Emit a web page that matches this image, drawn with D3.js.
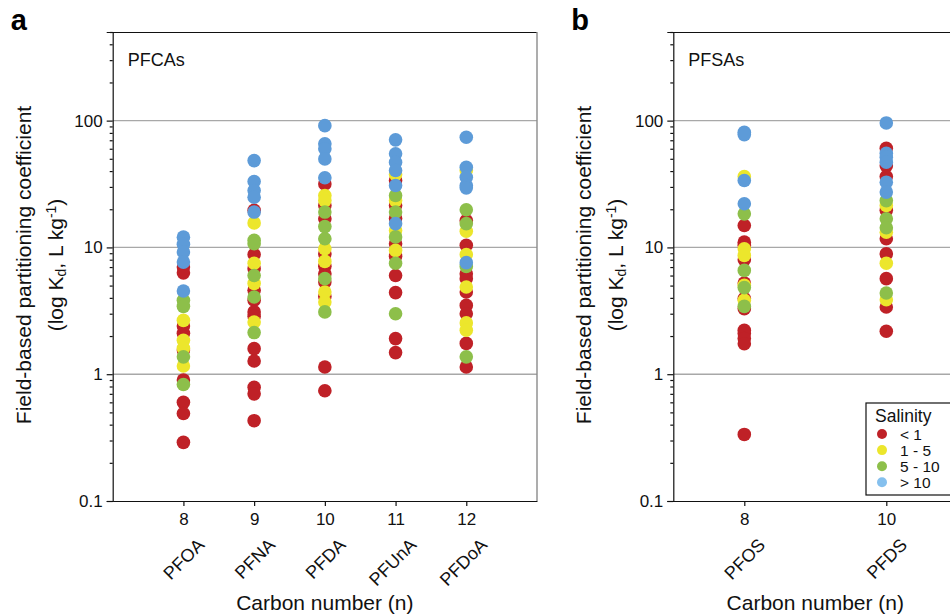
<!DOCTYPE html>
<html>
<head>
<meta charset="utf-8">
<script src="https://cdn.jsdelivr.net/npm/d3@7"></script>
<style>
  body { margin: 0; background: #fff; }
  svg { font-family: "Liberation Sans", Arial, sans-serif; }
</style>
</head>
<body>
<svg width="950" height="616"></svg>
<script>
// salinity classes
var salLabels = ["< 1", "1 - 5", "5 - 10", "> 10"];
var salColors = ["#bf2127", "#ece62c", "#8dbf4a", "#5d9bd8"];
var legendColors = ["#bf2127", "#ece62c", "#8dbf4a", "#85c0ee"];

// panel a, PFCAs (one inner list per compound)
var pfcaNames = ["PFOA", "PFNA", "PFDA", "PFUnA", "PFDoA"];
var pfcaCarbon = [8, 9, 10, 11, 12];
var pfcaRed = [
  [7.0, 6.3, 2.1, 1.55, 0.9, 0.6, 0.49, 0.29, 2.4],
  [19.6, 8.8, 6.8, 4.6, 3.83, 3.1, 2.86, 1.59, 1.27, 0.79, 0.70, 0.43],
  [31.7, 21.4, 16.8, 8.9, 7.1, 6.2, 5.33, 4.1, 1.14, 0.74],
  [33.7, 21.4, 16.9, 10.7, 8.5, 6.0, 4.4, 1.91, 1.48],
  [16.3, 10.4, 6.2, 5.67, 4.45, 3.49, 3.0, 1.75, 1.14]
];
var pfcaYellow = [
  [2.66, 1.85, 1.16, 1.6],
  [15.6, 7.5, 5.2, 2.58],
  [25.7, 23.4, 9.77, 7.76, 4.45, 3.71],
  [37.6, 23.4, 13.6, 9.47],
  [40.4, 13.4, 8.8, 4.87, 2.54, 2.22]
];
var pfcaGreen = [
  [3.83, 3.43, 1.37, 0.83],
  [11.4, 10.7, 6.0, 4.06, 2.13],
  [19.0, 14.6, 11.7, 5.67, 3.1],
  [25.7, 19.0, 12.1, 7.5, 3.0],
  [19.8, 15.4, 7.08, 1.37]
];
var pfcaBlue = [
  [12.05, 10.6, 9.2, 7.66, 4.53],
  [48.4, 33.1, 28.1, 24.9, 19.0],
  [91.3, 65.6, 59.9, 49.9, 35.4],
  [70.5, 54.7, 47.0, 40.4, 30.8, 15.4],
  [73.9, 42.9, 35.8, 30.8, 29.5, 7.58]
];

// panel b, PFSAs
var pfsaNames = ["PFOS", "PFDS"];
var pfsaCarbon = [8, 10];
var pfsaRed = [
  [14.9, 11.0, 10.4, 8.0, 5.24, 3.95, 3.29, 2.22, 2.09, 1.91, 1.74, 0.335],
  [60.5, 44, 36.2, 19.6, 11.7, 8.9, 5.67, 3.39, 2.18]
];
var pfsaYellow = [
  [36.2, 9.77, 8.65, 5.02, 3.83],
  [21.4, 13.2, 7.5, 3.87]
];
var pfsaGreen = [
  [18.4, 6.59, 4.82, 3.43],
  [23.4, 16.8, 14.3, 4.37]
];
var pfsaBlue = [
  [80.9, 77.6, 33.7, 22.1],
  [95.9, 55.3, 51.4, 47.0, 32.7, 27.3]
];

var majorTicks = [0.1, 1, 10, 100];
var gridTicks = [1, 10, 100];

var svg = d3.select("svg");
var top_ = 32, bottom = 501, rdot = 6.8;

var y = d3.scaleLog().domain([0.1, 500]).range([bottom, top_]);
var minorTicks = [];
[0.1, 1, 10, 100].forEach(function (d) {
  d3.range(2, 10).forEach(function (k) { if (d * k <= 500) minorTicks.push(d * k); });
});

function panel(opts) {
  var x = d3.scaleLinear().domain(opts.domain).range([opts.left, opts.right]);
  var g = svg.append("g");

  // gridlines
  g.selectAll(".grid").data(gridTicks).enter().append("line")
    .attr("x1", opts.left).attr("x2", opts.right)
    .attr("y1", function (d) { return y(d); }).attr("y2", function (d) { return y(d); })
    .attr("stroke", "#a8a8a8").attr("stroke-width", 1.4);

  // frame
  g.append("line").attr("x1", opts.left).attr("x2", opts.right)
    .attr("y1", top_ + 0.5).attr("y2", top_ + 0.5).attr("stroke", "#111").attr("stroke-width", 1.2);
  if (opts.rightBorder) {
    g.append("line").attr("x1", opts.right).attr("x2", opts.right)
      .attr("y1", top_).attr("y2", bottom).attr("stroke", "#8a8a8a").attr("stroke-width", 1.4);
  }

  // y axis
  var ya = g.append("g").attr("transform", "translate(" + opts.left + ",0)")
    .call(d3.axisLeft(y).tickValues(majorTicks).tickFormat(function (d) { return d; })
      .tickSize(6).tickPadding(4));
  g.append("g").attr("transform", "translate(" + opts.left + ",0)")
    .call(d3.axisLeft(y).tickValues(minorTicks).tickFormat("").tickSize(3))
    .select(".domain").remove();
  ya.selectAll("text").style("font-size", "17px").attr("fill", "#111");

  // x axis
  var xa = g.append("g").attr("transform", "translate(0," + bottom + ")")
    .call(d3.axisBottom(x).tickValues(opts.carbon).tickFormat(function (d) { return d; })
      .tickSize(5).tickPadding(7).tickSizeOuter(0));
  xa.selectAll("text").style("font-size", "17px").attr("fill", "#111");
  g.selectAll("path.domain, .tick line").attr("stroke", "#111").attr("stroke-width", 1.2);

  g.selectAll(".cname").data(opts.names).enter().append("text")
    .attr("transform", function (d, i) {
      return "translate(" + (x(opts.carbon[i]) + 22) + "," + 546 + ")rotate(-45)";
    })
    .attr("text-anchor", "end").style("font-size", "18px").attr("fill", "#111")
    .text(function (d) { return d; });

  // titles
  var cy = 265;
  g.append("text")
    .attr("transform", "translate(" + (opts.left - 82) + "," + cy + ")rotate(-90)")
    .attr("text-anchor", "middle").style("font-size", "21px").attr("fill", "#111")
    .text("Field-based partitioning coefficient");
  var yt2 = g.append("text")
    .attr("transform", "translate(" + (opts.left - 50) + "," + cy + ")rotate(-90)")
    .attr("text-anchor", "middle").style("font-size", "21px").attr("fill", "#111");
  yt2.append("tspan").text("(log K");
  yt2.append("tspan").attr("dy", 3).style("font-size", "14px").text("d");
  yt2.append("tspan").attr("dy", -3).text(", L kg");
  yt2.append("tspan").attr("dy", -7).style("font-size", "14px").text("-1");
  yt2.append("tspan").attr("dy", 7).text(")");

  g.append("text").attr("x", (opts.left + opts.right) / 2).attr("y", 610)
    .attr("text-anchor", "middle").style("font-size", "21px").attr("fill", "#111")
    .text("Carbon number (n)");

  g.append("text").attr("x", opts.left + 15).attr("y", 66)
    .style("font-size", "18px").attr("fill", "#111").text(opts.label);

  g.append("text").attr("x", opts.left - 102).attr("y", 30)
    .style("font-size", "29px").style("font-weight", "bold").attr("fill", "#000").text(opts.letter);

  // points: red, yellow, green, blue on top
  opts.series.forEach(function (ser, si) {
    var pts = [];
    ser.forEach(function (vals, ci) {
      vals.forEach(function (v) { pts.push({ c: opts.carbon[ci], v: v }); });
    });
    g.append("g").selectAll("circle").data(pts).enter().append("circle")
      .attr("cx", function (d) { return x(d.c); })
      .attr("cy", function (d) { return y(d.v); })
      .attr("r", rdot).attr("fill", salColors[si]);
  });
  return x;
}

panel({
  left: 112.7, right: 537, domain: [7, 13], carbon: pfcaCarbon, names: pfcaNames,
  series: [pfcaRed, pfcaYellow, pfcaGreen, pfcaBlue], label: "PFCAs", letter: "a", rightBorder: true
});
panel({
  left: 673.3, right: 957.3, domain: [7, 11], carbon: pfsaCarbon, names: pfsaNames,
  series: [pfsaRed, pfsaYellow, pfsaGreen, pfsaBlue], label: "PFSAs", letter: "b", rightBorder: false
});

// legend
var lg = svg.append("g");
lg.append("rect").attr("x", 866).attr("y", 403).attr("width", 100).attr("height", 92)
  .attr("fill", "#fff").attr("stroke", "#111").attr("stroke-width", 1.2);
lg.append("text").attr("x", 875).attr("y", 422).style("font-size", "17.5px").attr("fill", "#111").text("Salinity");
lg.selectAll(".li").data(salLabels).enter().append("circle")
  .attr("cx", 882).attr("cy", function (d, i) { return 434 + i * 16.1; })
  .attr("r", 5).attr("fill", function (d, i) { return legendColors[i]; });
lg.selectAll(".lt").data(salLabels).enter().append("text")
  .attr("x", 900).attr("y", function (d, i) { return 439.5 + i * 16.1; })
  .style("font-size", "15.5px").attr("fill", "#111").text(function (d) { return d; });
</script>
</body>
</html>
